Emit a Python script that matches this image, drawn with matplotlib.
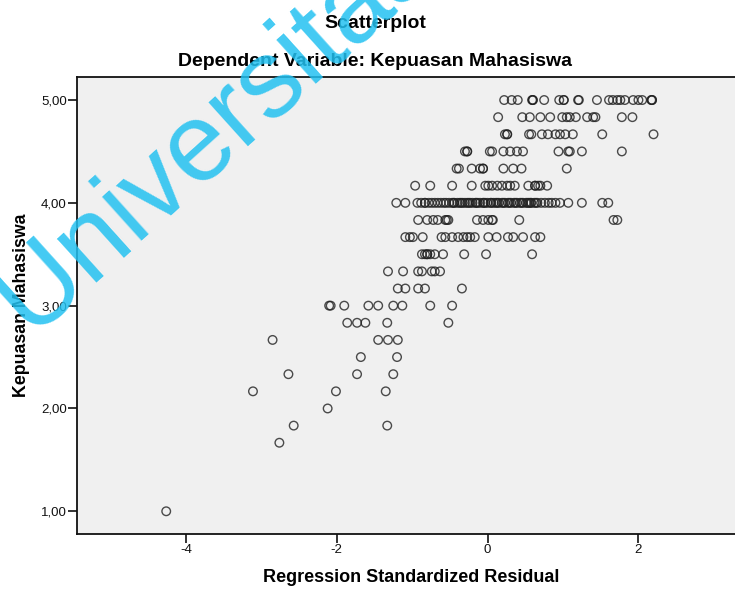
import matplotlib

matplotlib.use("Agg")
import matplotlib.pyplot as plt
import numpy as np

plt.rcParams["font.family"] = ["Liberation Sans", "DejaVu Sans"]

# standardized residuals, one list per satisfaction level
res_500 = [0.22, 0.32, 0.40, 0.59, 0.60, 0.60, 0.75, 0.95, 1.01, 1.01, 1.20, 1.21,
           1.45, 1.61, 1.66, 1.72, 1.76, 1.82, 1.93, 2.00, 2.05, 2.17, 2.18, 2.18]
res_483 = [0.14, 0.46, 0.56, 0.70, 0.83, 0.99, 1.05, 1.09, 1.17, 1.32, 1.40, 1.43, 1.78, 1.92]
res_467 = [0.23, 0.26, 0.26, 0.55, 0.58, 0.72, 0.80, 0.90, 0.96, 1.03, 1.13, 1.52, 2.20]
res_450 = [-0.30, -0.27, -0.27, 0.03, 0.06, 0.21, 0.30, 0.39, 0.47, 0.94, 1.07, 1.09, 1.25, 1.78]
res_433 = [-0.41, -0.38, -0.21, -0.10, -0.06, -0.06, 0.21, 0.34, 0.45, 1.05]
res_417 = [-0.96, -0.76, -0.47, -0.21, -0.03, 0.01, 0.06, 0.13, 0.19, 0.26, 0.30, 0.36,
           0.54, 0.63, 0.63, 0.67, 0.70, 0.79]
res_400 = [-1.21, -1.09, -0.93, -0.88, -0.83, -0.83, -0.78, -0.74, -0.70, -0.66, -0.62,
           -0.58, -0.55, -0.51, -0.47, -0.44, -0.40, -0.37, -0.33, -0.30, -0.27, -0.23,
           -0.20, -0.16, -0.13, -0.10, -0.06, -0.03, 0.00, 0.04, 0.08, 0.11, 0.15, 0.19,
           0.23, 0.27, 0.31, 0.35, 0.39, 0.43, 0.47, 0.51, 0.55, 0.58, 0.62, 0.66, 0.71,
           0.76, 0.81, 0.85, 0.90, 0.96, 1.07, 1.25, 1.52, 1.60,
           -0.45, -0.35, -0.25, -0.15, -0.05, 0.05, 0.13, 0.21, 0.29, 0.37, 0.45, 0.53,
           0.57, 0.64]
res_383 = [-0.92, -0.80, -0.72, -0.66, -0.56, -0.54, -0.52, -0.14, -0.06, 0.01, 0.06,
           0.07, 0.42, 1.67, 1.72]
res_367 = [-1.09, -1.03, -0.99, -0.86, -0.61, -0.56, -0.47, -0.39, -0.32, -0.27, -0.23,
           -0.17, 0.01, 0.12, 0.27, 0.34, 0.47, 0.63, 0.70]
res_350 = [-0.87, -0.83, -0.80, -0.80, -0.76, -0.70, -0.59, -0.31, -0.02, 0.59]
res_333 = [-1.32, -1.12, -0.92, -0.87, -0.74, -0.70, -0.63]
res_317 = [-1.19, -1.09, -0.92, -0.83, -0.34]
res_300 = [-2.10, -2.08, -1.90, -1.58, -1.45, -1.25, -1.13, -0.76, -0.47]
res_283 = [-1.86, -1.73, -1.62, -1.33, -0.52]
res_267 = [-2.85, -1.45, -1.32, -1.19]
res_250 = [-1.68, -1.20]
res_233 = [-2.64, -1.73, -1.25]
res_217 = [-3.11, -2.01, -1.35]
res_200 = [-2.12]
res_183 = [-2.57, -1.33]
res_167 = [-2.76]
res_100 = [-4.26]

# satisfaction level in sixths (30 -> 5,00 ... 6 -> 1,00)
levels = [30, 29, 28, 27, 26, 25, 24, 23, 22, 21, 20, 19, 18, 17, 16, 15, 14, 13, 12, 11, 10, 6]
rows = [res_500, res_483, res_467, res_450, res_433, res_417, res_400, res_383, res_367,
        res_350, res_333, res_317, res_300, res_283, res_267, res_250, res_233, res_217,
        res_200, res_183, res_167, res_100]

x_ticks = [-4, -2, 0, 2]
y_ticks = [1, 2, 3, 4, 5]

x = np.concatenate([np.array(r) for r in rows])
y = np.concatenate([np.full(len(r), lv / 6) for lv, r in zip(levels, rows)])

W, H = 735, 589
fig = plt.figure(figsize=(W / 100, H / 100), dpi=100)
left, right, bottom, top = 77.2, 735, 534, 77
ax = fig.add_axes([left / W, 1 - bottom / H, (right - left) / W, (bottom - top) / H])
ax.set_facecolor("#f0f0f0")

ax.scatter(x, y, s=38, facecolors="none", edgecolors="#202020", linewidths=1.0, alpha=0.8)

ax.set_xlim(-5.44, 3.28)
ax.set_ylim(0.779, 5.224)
ax.set_xticks(x_ticks)
ax.set_xticklabels([str(t) if t >= 0 else "-" + str(-t) for t in x_ticks])
ax.set_yticks(y_ticks)
ax.set_yticklabels([f"{t:.2f}".replace(".", ",") for t in y_ticks])
ax.tick_params(direction="out", length=6.5, width=1.2, labelsize=9.5, colors="#111111", pad=1)
for side in ("left", "bottom", "top"):
    ax.spines[side].set_linewidth(1.3)
    ax.spines[side].set_color("#111111")
ax.spines["right"].set_visible(False)

fig.text(411 / W, 1 - 578 / H, "Regression Standardized Residual", ha="center", va="center",
         fontsize=13, fontweight="bold")
fig.text(22 / W, 1 - 305 / H, "Kepuasan Mahasiswa", ha="center", va="center", rotation=90,
         fontsize=12.8, fontweight="bold")

fig.text(375 / W, 1 - 24 / H, "Scatterplot", ha="center", va="center", fontsize=14, fontweight="bold")
fig.text(375 / W, 1 - 62 / H, "Dependent Variable: Kepuasan Mahasiswa", ha="center", va="center",
         fontsize=14, fontweight="bold")

# watermark
fig.text(30 / W, 1 - 335 / H, "Universitas", rotation=42, rotation_mode="anchor",
         ha="left", va="baseline", fontsize=80, color="#22c1f1", alpha=0.85)

fig.savefig("out.png", dpi=100)
